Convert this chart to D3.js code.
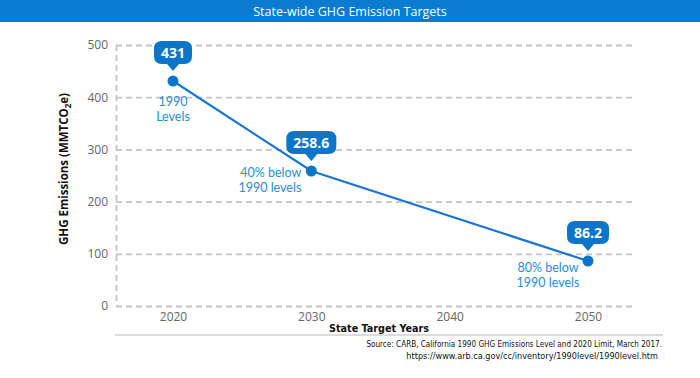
<!DOCTYPE html>
<html><head><meta charset="utf-8">
<script src="https://cdn.jsdelivr.net/npm/d3@7/dist/d3.min.js"></script>
<style>body{margin:0;background:#fff}svg{display:block}</style>
</head><body><svg id="c" width="700" height="378"></svg>
<script>
// ---- data ----
const title = "State-wide GHG Emission Targets";
const xTickYears = [2020, 2030, 2040, 2050];
const targetYears = [2020, 2030, 2050];
const emissions = [431, 258.6, 86.2];
const valueLabels = ["431", "258.6", "86.2"];
const notes = [["1990", "Levels"], ["40% below", "1990 levels"], ["80% below", "1990 levels"]];
const yTicks = [0, 100, 200, 300, 400, 500];
const xTitle = "State Target Years";
const sourceLines = ["Source: CARB, California 1990 GHG Emissions Level and 2020 Limit, March 2017.",
  "https://www.arb.ca.gov/cc/inventory/1990level/1990level.htm"];

// ---- layout ----
const noteLayout = [{dx: 0, dy: 25, anchor: "middle"}, {dx: -10, dy: 6, anchor: "end"}, {dx: -40, dy: 11, anchor: "middle"}];
const font = "'Open Sans', 'Noto Sans', sans-serif";
const narrow = "'DejaVu Sans Condensed', 'Liberation Sans Narrow', 'Liberation Sans', Arial, sans-serif";
const svg = d3.select("#c");
const x = d3.scaleLinear().domain([2020, 2050]).range([173, 588]);
const y = d3.scaleLinear().domain([0, 500]).range([306, 45]);
const gridX0 = 116, gridX1 = 633;

function fitWidth(sel, target, size) {
  sel.attr("font-size", size);
  const w = sel.node().getComputedTextLength();
  if (w > target) sel.attr("font-size", (size * target / w).toFixed(2));
}

// title bar
svg.append("rect").attr("x", 0).attr("y", 0).attr("width", 700).attr("height", 22).attr("fill", "#0a7bcf");
svg.append("text").attr("x", 350).attr("y", 15.5).attr("text-anchor", "middle")
  .attr("fill", "#fff").attr("font-family", font).attr("font-size", 12.5).text(title);

// grid lines via axis
const yAxis = d3.axisLeft(y).tickValues(yTicks).tickSize(-(gridX1 - gridX0)).tickPadding(8);
const gy = svg.append("g").attr("transform", `translate(${gridX0},0)`).call(yAxis);
gy.select(".domain").attr("stroke", "#c4c4c4").attr("stroke-width", 1.8).attr("stroke-dasharray", "6,4")
  .attr("d", `M0.5,${y(500)}V${y(0)}`);
gy.selectAll(".tick line").attr("stroke", "#c4c4c4").attr("stroke-width", 1.8).attr("stroke-dasharray", "6,4");
gy.selectAll(".tick text").attr("fill", "#666").attr("font-family", font).attr("font-size", 12);

// x axis labels
const xAxis = d3.axisBottom(x).tickValues(xTickYears).tickFormat(d3.format("d")).tickSize(0).tickPadding(6);
const gx = svg.append("g").attr("transform", `translate(0,${y(0)})`).call(xAxis);
gx.select(".domain").remove();
gx.selectAll(".tick text").attr("fill", "#666").attr("font-family", font).attr("font-size", 12);

// bottom rule
svg.append("line").attr("x1", 115).attr("x2", 663).attr("y1", 335).attr("y2", 335)
  .attr("stroke", "#dcdcdc").attr("stroke-width", 2);

// axis titles
const xt = svg.append("text").attr("x", 379).attr("y", 332).attr("text-anchor", "middle")
  .attr("font-family", narrow).attr("font-weight", "bold").attr("fill", "#111").text(xTitle);
fitWidth(xt, 100, 12.5);
const yt = svg.append("text").attr("transform", "translate(68,169) rotate(-90)").attr("text-anchor", "middle")
  .attr("font-family", font).attr("font-weight", "bold").attr("font-size", 11.5).attr("fill", "#111");
yt.append("tspan").text("GHG Emissions (MMTCO");
yt.append("tspan").attr("font-size", 8).attr("dy", 3).text("2");
yt.append("tspan").attr("dy", -3).text("e)");

// source
sourceLines.forEach((s, i) => {
  const t = svg.append("text").attr("x", [662, 658][i]).attr("y", 347 + i * 11.5).attr("text-anchor", "end")
    .attr("font-family", narrow).attr("fill", "#111").text(s);
  fitWidth(t, [296, 252][i], 9.5);
});

// line + points
const pts = targetYears.map((yr, i) => ({yr, v: emissions[i], lab: valueLabels[i], note: notes[i], lay: noteLayout[i]}));
svg.append("path").datum(pts).attr("fill", "none").attr("stroke", "#1976d0").attr("stroke-width", 2.2)
  .attr("d", d3.line().x(d => x(d.yr)).y(d => y(d.v)));
svg.selectAll("circle.pt").data(pts).join("circle").attr("class", "pt")
  .attr("cx", d => x(d.yr)).attr("cy", d => y(d.v)).attr("r", 5.5).attr("fill", "#0a75c9");

// callouts
pts.forEach(d => {
  const cx = x(d.yr), cy = y(d.v);
  const g = svg.append("g");
  const t = g.append("text").attr("font-family", font).attr("font-weight", "bold").attr("font-size", 14)
    .attr("fill", "#fff").attr("text-anchor", "middle").text(d.lab);
  const w = t.node().getComputedTextLength() + 14;
  const h = 23, tip = cy - 10, by = tip - 7 - h, r = 8;
  g.insert("path", "text").attr("fill", "#0a75c9")
    .attr("d", `M${cx - w / 2 + r},${by} H${cx + w / 2 - r} Q${cx + w / 2},${by} ${cx + w / 2},${by + r} V${by + h - r} Q${cx + w / 2},${by + h} ${cx + w / 2 - r},${by + h} H${cx + 6} L${cx},${tip} L${cx - 6},${by + h} H${cx - w / 2 + r} Q${cx - w / 2},${by + h} ${cx - w / 2},${by + h - r} V${by + r} Q${cx - w / 2},${by} ${cx - w / 2 + r},${by} Z`);
  t.attr("x", cx).attr("y", by + h / 2 + 5);
  // notes
  d.note.forEach((line, j) => {
    svg.append("text").attr("x", cx + d.lay.dx).attr("y", cy + d.lay.dy + j * 15)
      .attr("text-anchor", d.lay.anchor).attr("font-family", "Lato, 'Open Sans', sans-serif").attr("font-size", 12.5)
      .attr("fill", "#1f8ed8").text(line);
  });
});
</script></body></html>
